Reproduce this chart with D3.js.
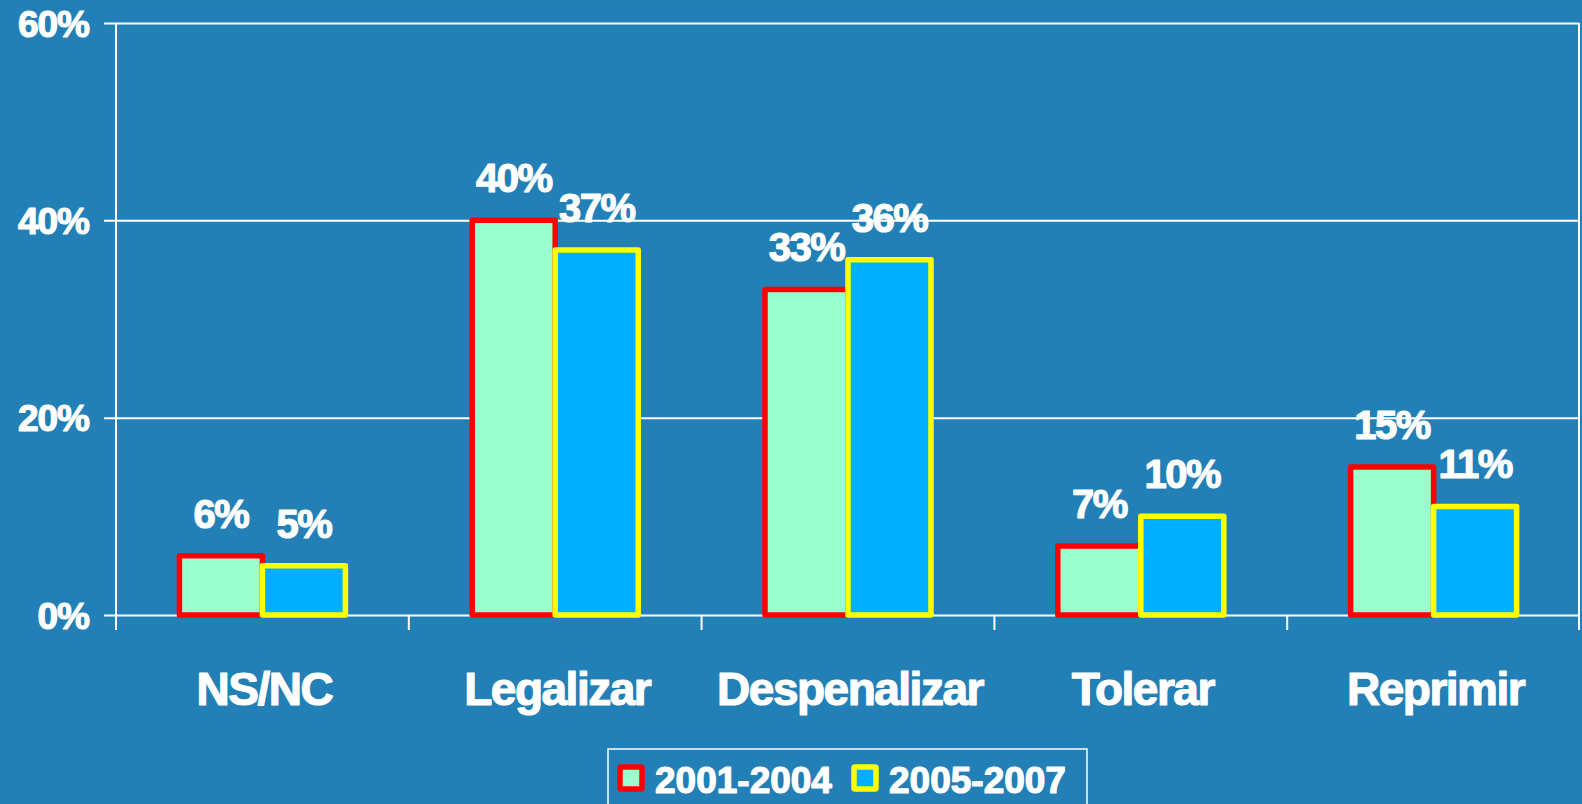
<!DOCTYPE html>
<html><head><meta charset="utf-8">
<script src="https://cdn.jsdelivr.net/npm/d3@7"></script>
<style>html,body{margin:0;padding:0;background:#2280B6;overflow:hidden}
text{stroke:#fff;stroke-width:1.2px;stroke-linejoin:round}</style>
</head><body>
<svg id="c" width="1582" height="804"></svg>
<script>
const categories = ["NS/NC","Legalizar","Despenalizar","Tolerar","Reprimir"];
const seriesNames = ["2001-2004","2005-2007"];
const values2001 = [6,40,33,7,15];
const values2005 = [5,37,36,10,11];
const yTicks = [0,20,40,60];

(function(){
const fills = ["#99FFCC","#00B0FF"];
const strokes = ["#FF0000","#FFFF00"];
const FONT = "'Liberation Sans', Arial, sans-serif";

const svg = d3.select("#c");
svg.append("rect").attr("width",1582).attr("height",804).attr("fill","#2280B6");

const pL=116, pR=1580, pT=23, pB=615;
const x0 = d3.scaleBand().domain(categories).range([pL,pR]).paddingInner(0).paddingOuter(0);
const y = d3.scaleLinear().domain([0,60]).range([pB,pT]);
const groupW = 166;
const x1 = d3.scaleBand().domain(seriesNames).range([0,groupW]);

// gridlines + y ticks
const yAxis = d3.axisLeft(y).tickValues(yTicks).tickFormat(d=>d+"%").tickSize(-(pR-pL)).tickPadding(15);
const gy = svg.append("g").attr("transform",`translate(${pL},0)`).call(yAxis);
gy.select(".domain").remove();
gy.selectAll(".tick line").attr("stroke","#fff").attr("stroke-width",2).attr("x1",-12).attr("x2",pR-pL-1);
gy.selectAll(".tick text").attr("fill","#fff").attr("font-family",FONT).attr("font-weight","bold")
  .attr("font-size",37).attr("x",-27).attr("dy","0.36em").attr("letter-spacing",-1);

// left axis line and right border
svg.append("line").attr("x1",pL).attr("x2",pL).attr("y1",pT).attr("y2",630).attr("stroke","#fff").attr("stroke-width",2);
svg.append("line").attr("x1",pR-1).attr("x2",pR-1).attr("y1",pT).attr("y2",630).attr("stroke","#fff").attr("stroke-width",2);

// x ticks at band boundaries
const bounds = categories.map(c=>x0(c)).concat([pR-1]);
svg.append("g").selectAll("line").data(bounds).join("line")
  .attr("x1",d=>d).attr("x2",d=>d).attr("y1",pB).attr("y2",630)
  .attr("stroke","#fff").attr("stroke-width",2);

// bars
const data = categories.map((c,i)=>({cat:c, vals:[values2001[i],values2005[i]]}));
const groups = svg.append("g").selectAll("g").data(data).join("g")
  .attr("transform",d=>`translate(${x0(d.cat)+x0.bandwidth()/2-groupW/2},0)`);
groups.selectAll("rect").data(d=>d.vals.map((v,j)=>({v,s:seriesNames[j],j}))).join("rect")
  .attr("x",d=>x1(d.s)).attr("width",x1.bandwidth())
  .attr("y",d=>y(d.v)).attr("height",d=>pB-y(d.v))
  .attr("fill",d=>fills[d.j]).attr("stroke",d=>strokes[d.j]).attr("stroke-width",5.5)
  .attr("stroke-linejoin","round");
groups.selectAll("text").data(d=>d.vals.map((v,j)=>({v,s:seriesNames[j],j}))).join("text")
  .attr("x",d=>x1(d.s)+x1.bandwidth()/2).attr("y",d=>y(d.v)-28)
  .attr("text-anchor","middle").attr("fill","#fff").attr("font-family",FONT)
  .attr("font-weight","bold").attr("font-size",40).attr("letter-spacing",-1.5)
  .text(d=>d.v+"%");

// category labels
svg.append("g").selectAll("text").data(categories).join("text")
  .attr("x",d=>x0(d)+x0.bandwidth()/2+2).attr("y",705)
  .attr("text-anchor","middle").attr("fill","#fff").attr("font-family",FONT)
  .attr("font-weight","bold").attr("font-size",46).attr("letter-spacing",-1.5)
  .text(d=>d);

// legend
const lg = svg.append("g");
lg.append("rect").attr("x",608).attr("y",749).attr("width",479).attr("height",70)
  .attr("fill","none").attr("stroke","#fff").attr("stroke-width",1.5);
const legX = [620, 854];
seriesNames.forEach((s,i)=>{
  lg.append("rect").attr("x",legX[i]).attr("y",767).attr("width",22).attr("height",22)
    .attr("fill",fills[i]).attr("stroke",strokes[i]).attr("stroke-width",5.5).attr("rx",1);
  lg.append("text").attr("x",legX[i]+35).attr("y",793).attr("fill","#fff")
    .attr("font-family",FONT).attr("font-weight","bold").attr("font-size",37)
    .text(s);
});
})();
</script>
</body></html>
